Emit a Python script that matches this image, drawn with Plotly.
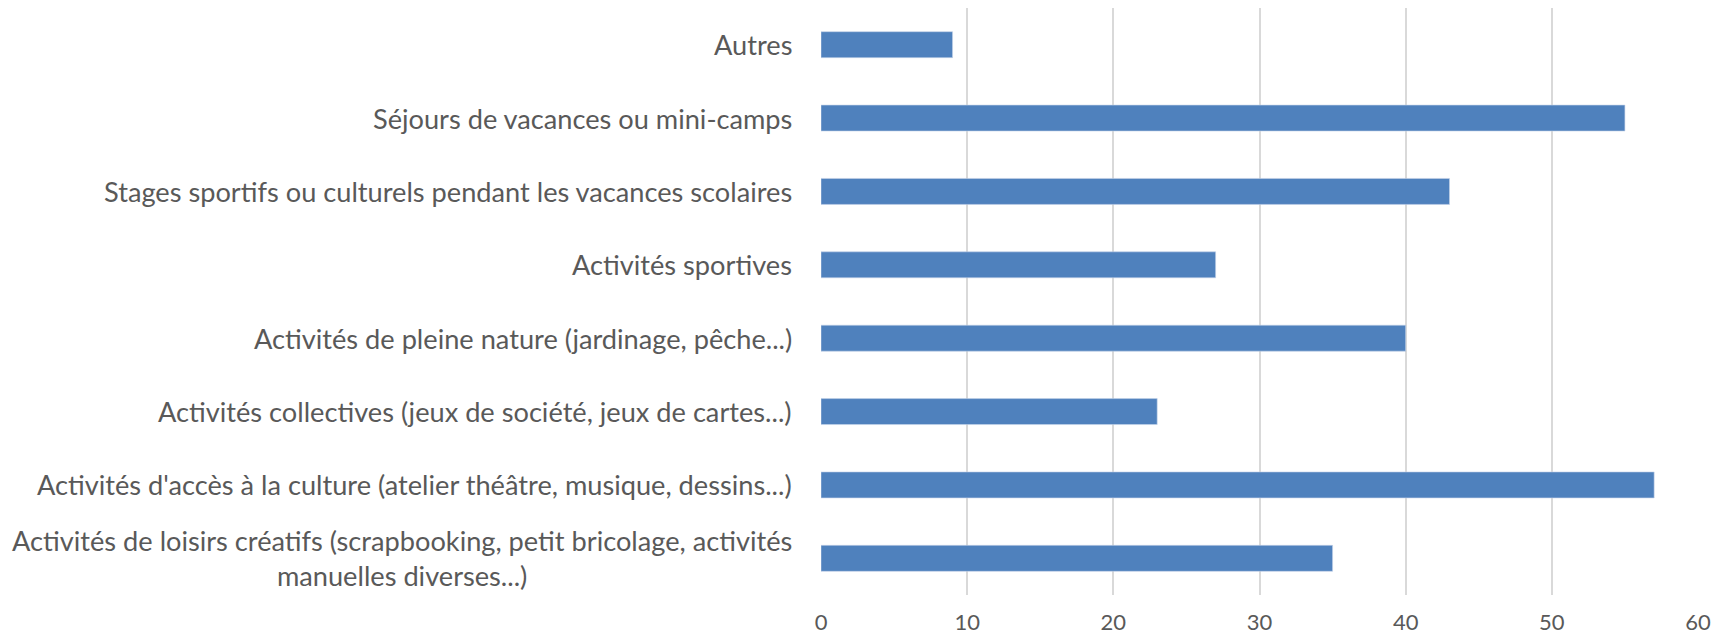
import plotly.graph_objects as go

categories = [
    "Activités de loisirs créatifs (scrapbooking, petit bricolage, activités<br>manuelles diverses...)",
    "Activités d'accès à la culture (atelier théâtre, musique, dessins...)",
    "Activités collectives (jeux de société, jeux de cartes...)",
    "Activités de pleine nature (jardinage, pêche...)",
    "Activités sportives",
    "Stages sportifs ou culturels pendant les vacances scolaires",
    "Séjours de vacances ou mini-camps",
    "Autres",
]
values = [35, 57, 23, 40, 27, 43, 55, 9]
x_ticks = [0, 10, 20, 30, 40, 50, 60]

FONT = "Lato"
GREY = "#595959"

fig = go.Figure(go.Bar(
    y=list(range(len(categories))), x=values, orientation="h",
    marker=dict(color="#4f81bd", line=dict(color="#c6d4ea", width=0.6)),
    width=0.354,
))

for i, c in enumerate(categories):
    fig.add_annotation(
        x=0, xref="paper", y=i, yref="y", text=c, showarrow=False,
        xanchor="right", yanchor="middle", align="center", xshift=-27,
        font=dict(family=FONT, size=27.2, color=GREY),
    )

fig.update_layout(
    width=1715, height=628,
    margin=dict(l=813, r=25, t=0, b=41, autoexpand=False),
    paper_bgcolor="white", plot_bgcolor="white",
    showlegend=False,
    bargap=0.646,
    font=dict(family=FONT, color=GREY),
)
fig.update_xaxes(
    range=[0, 60], tickvals=x_ticks, showgrid=True, gridcolor="#d9d9d9", gridwidth=1.5,
    zeroline=False, showline=False, ticks="", tickfont=dict(family=FONT, size=22, color=GREY),
    ticklabelstandoff=12, automargin=False,
)
fig.update_yaxes(
    range=[-0.5, 7.5], showticklabels=False, showgrid=False, zeroline=False, showline=False,
    automargin=False,
)

fig.write_html("out.html")
